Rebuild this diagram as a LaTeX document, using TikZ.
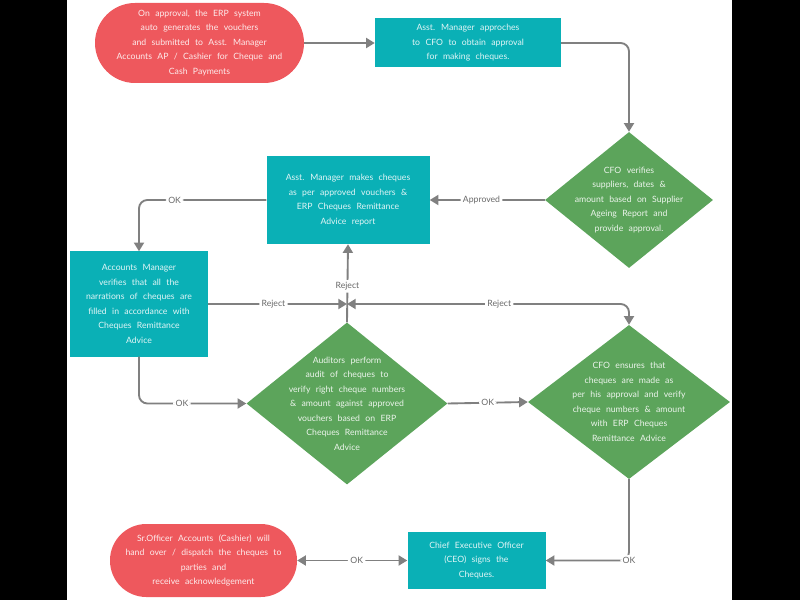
\documentclass[tikz,border=0pt]{standalone}
\usepackage{fontspec}
\setmainfont{Lato}
\usetikzlibrary{shapes.geometric,arrows.meta}
\definecolor{stopred}{RGB}{238,88,93}
\definecolor{stepteal}{RGB}{10,176,182}
\definecolor{checkgreen}{RGB}{92,164,91}
\definecolor{linegrey}{RGB}{128,128,128}
\definecolor{labelgrey}{RGB}{105,105,105}
\newcommand\widespace{\spaceskip=4.6pt plus 1pt\relax}

\begin{document}
\begin{tikzpicture}[x = .3mm, y = -.3mm,
  every node/.style = {font = \fontsize{7.4}{12.4}\selectfont, align = center},
  txt/.style = {text = white, text opacity = .88, execute at begin node = \widespace},
  terminal/.style = {txt, fill = stopred, rectangle},
  stepbox/.style = {txt, fill = stepteal, rectangle},
  check/.style = {fill = checkgreen, diamond, inner sep = 0pt},
  lbl/.style = {fill = white, text = labelgrey, inner sep = 2pt},
  tip/.tip = {Triangle[length = 2.6mm, width = 3mm]},
  flow/.style = {draw = linegrey, line width = 1.6pt, -tip, rounded corners = 2.5mm}]

  \useasboundingbox (0,0) rectangle (800,600);
  \foreach \a/\b in {0/67, 732/800}
    \fill [black] (\a,0) rectangle (\b,600);

  \node [terminal, minimum width = 62.7mm, minimum height = 24mm, rounded corners = 12mm]
    (start) at (199.5,43) {On approval, the ERP system\\ auto generates the vouchers\\
    and submitted to Asst. Manager\\ Accounts AP / Cashier for Cheque and\\ Cash Payments};
  \node [stepbox, minimum width = 55.8mm, minimum height = 14.7mm]
    (ask) at (468,43) {Asst. Manager approches\\ to CFO to obtain approval\\ for making cheques.};
  \node [check, minimum width = 50.4mm, minimum height = 40.8mm,
    label = {[txt]center:CFO verifies\\ suppliers, dates \&\\ amount based on Supplier\\
    Ageing Report and\\ provide approval.}] (verify) at (629,200) {};
  \node [stepbox, minimum width = 48.9mm, minimum height = 26.4mm]
    (make) at (348,200) {Asst. Manager makes cheques\\ as per approved vouchers \&\\
    ERP Cheques Remittance\\ Advice report};
  \node [stepbox, minimum width = 41.4mm, minimum height = 31.5mm]
    (accmgr) at (139,304) {Accounts Manager\\ verifies that all the\\ narrations of cheques are\\
    filled in accordance with\\ Cheques Remittance\\ Advice};
  \node [check, minimum width = 60.3mm, minimum height = 48.6mm,
    label = {[txt]center:Auditors perform\\ audit of cheques to\\ verify right cheque numbers\\
    \& amount against approved\\ vouchers based on ERP\\ Cheques Remittance\\ Advice}]
    (audit) at (347,403.5) {};
  \node [check, minimum width = 60.6mm, minimum height = 46.2mm,
    label = {[txt]center:CFO ensures that\\ cheques are made as\\ per his approval and verify\\
    cheque numbers \& amount\\ with ERP Cheques\\ Remittance Advice}]
    (ensure) at (629,402) {};
  \node [stepbox, minimum width = 41.4mm, minimum height = 17.1mm]
    (ceo) at (476.5,560.5) {Chief Executive Officer\\ (CEO) signs the\\ Cheques.};
  \node [terminal, minimum width = 56.1mm, minimum height = 21.9mm, rounded corners = 10.9mm]
    (handover) at (203.5,560.5) {Sr.Officer Accounts (Cashier) will\\ hand over / dispatch the cheques to\\
    parties and\\ receive acknowledgement};
  \coordinate (junc) at (347,304);

  \draw [flow] (start) -- (ask);
  \draw [flow] (ask.east) -| (verify.north);
  \draw [flow] (verify.west) -- node [lbl, pos = .55] {Approved} (make.east);
  \draw [flow] (make.west) -| node [lbl, pos = .36] {OK} (accmgr.north);
  \draw [flow] (accmgr.east) -- node [lbl, pos = .47] {Reject} (junc);
  \draw [flow] (audit.north) -- node [lbl, pos = .46] {Reject} (make.south);
  \draw [flow] (accmgr.south) |- node [lbl, pos = .7] {OK} (audit.west);
  \draw [flow] (audit.east) -- node [lbl] {OK} (ensure.west);
  \draw [flow, tip-tip] (junc) -| node [lbl, pos = .27] {Reject} (ensure.north);
  \draw [flow] (ensure.south) |- node [lbl] {OK} (ceo.east);
  \draw [flow, tip-tip] (ceo.west) -- node [lbl, pos = .46] {OK} (handover.east);
\end{tikzpicture}
\end{document}
